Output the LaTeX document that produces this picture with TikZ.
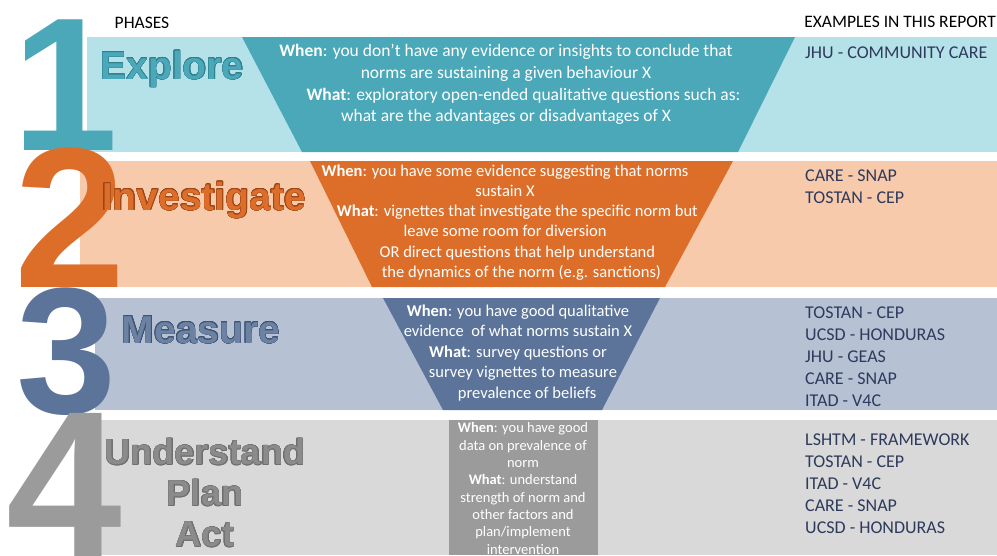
\documentclass[tikz,border=0pt]{standalone}
\usepackage{fontspec}
\setmainfont{Carlito}
\newfontfamily\headfont{Liberation Sans}
\usepackage{tikz}
\usetikzlibrary{positioning}
\usepackage{contour}
\contourlength{0.4pt}
\definecolor{exploreL}{HTML}{B5E1E8}
\definecolor{exploreD}{HTML}{4AA8B9}
\definecolor{exploreE}{HTML}{2F7F8E}
\definecolor{investL}{HTML}{F7CAAC}
\definecolor{investD}{HTML}{DC6E2A}
\definecolor{investE}{HTML}{9C4516}
\definecolor{measureL}{HTML}{B6C2D4}
\definecolor{measureD}{HTML}{5C7499}
\definecolor{measureE}{HTML}{3E5273}
\definecolor{actL}{HTML}{D9D9D9}
\definecolor{actD}{HTML}{9B9B9B}
\definecolor{actE}{HTML}{6E6E6E}
\definecolor{exampletext}{HTML}{2E3A5C}
\newcommand\phasename[3]{\contour{#2}{\textcolor{#1}{#3}}}

\begin{document}
\begin{tikzpicture}[x=1pt, y=-1pt,
  funnel/.style={text=white, align=center, inner sep=0pt, font=\fontsize{16.5}{20.2}\selectfont},
  example/.style={anchor=west, text=exampletext, align=left, inner sep=0pt, font=\fontsize{18}{22}\selectfont},
  header/.style={inner sep=0pt, font=\fontsize{17.5}{20}\selectfont},
  phase/.style={inner sep=0pt, align=center, font=\headfont\bfseries\fontsize{39}{41}\selectfont},
  bignum/.style={anchor=base, inner sep=0pt, font=\headfont\bfseries\fontsize{190}{190}\selectfont}]
\clip (0,0) rectangle (997,555);
%\draw[step=10,gray,very thin] (0,0) grid (997,555);
\fill[white] (0,0) rectangle (997,555);%%
\draw (142,23) node[header] (phases) {PHASES};%%
\draw (996,22) node[header, anchor=east] (examples) {EXAMPLES IN THIS REPORT};%%
% bands
\fill[exploreL] (87,37) rectangle (997,152);%%
\fill[investL] (80,161) rectangle (997,287);%%
\fill[measureL] (95,298) rectangle (997,410);%%
\fill[actL] (95,420) rectangle (997,555);%%
% funnels
\fill[exploreD] (242,37) -- (795,37) -- (738,152) -- (302,152) -- cycle;%%
\fill[investD] (310,161) -- (733,161) -- (665,287) -- (372,287) -- cycle;%%
\fill[measureD] (383,298) -- (660,298) -- (602,410) -- (443,410) -- cycle;%%
\fill[actD] (449,420) rectangle (598,555);%%
% big numbers
\draw (65,150) node[bignum, text=exploreD] (one) {1};%%
\draw (70,287) node[bignum, text=investD, font=\headfont\bfseries\fontsize{200}{200}\selectfont] (two) {2};%%
\draw (67,413) node[bignum, text=measureD, font=\headfont\bfseries\fontsize{180}{180}\selectfont] (three) {3};%%
\draw (64,556) node[bignum, text=actD, font=\headfont\bfseries\fontsize{208}{208}\selectfont] (four) {4};%%
% phase names
\draw (172,79) node[phase, anchor=base] (explore) {\phasename{exploreD}{exploreE}{Explore}};%%
\draw (204,210) node[phase, anchor=base] (investigate) {\phasename{investD}{investE}{Investigate}};%%
\draw (201,343) node[phase, anchor=base] (measure) {\phasename{measureD!90!white}{measureE}{Measure}};%%
\draw (205,493) node[phase, font=\headfont\bfseries\fontsize{36}{41}\selectfont] (act) {\phasename{actD!90!black}{actE}{Understand}\\ \phasename{actD!90!black}{actE}{Plan}\\ \phasename{actD!90!black}{actE}{Act}};%%
% funnel texts
\draw (506,84.5) node[funnel, font=\fontsize{17.5}{21.7}\selectfont] (when1) {\textbf{When}: you don't have any evidence or insights to conclude that\\ norms are sustaining a given behaviour X\\ \hspace{2em}\textbf{What}: exploratory open-ended qualitative questions such as:\\ what are the advantages or disadvantages of X};%%
\draw (505,222.5) node[funnel] (when2) {\textbf{When}: you have some evidence suggesting that norms\\ sustain X\\ \hspace{1.5em}\textbf{What}: vignettes that investigate the specific norm but\\ leave some room for diversion\\ \hspace{1.5em}OR direct questions that help understand\\ \hspace{2em}the dynamics of the norm (e.g. sanctions)};%%
\draw (518,353) node[funnel, font=\fontsize{16.5}{20.5}\selectfont] (when3) {\textbf{When}: you have good qualitative\\ evidence\ \ of what norms sustain X\\ \textbf{What}: survey questions or\hspace{1.7em}\\ \hspace{0.6em}survey vignettes to measure\\ \hspace{1.1em}prevalence of beliefs};%%
\draw (523,488.5) node[funnel, font=\fontsize{14.5}{17.3}\selectfont] (when4) {\textbf{When}: you have good\\ data on prevalence of\\ norm\\ \textbf{What}: understand\\ strength of norm and\\ other factors and\\ plan/implement\\ intervention};%%
% examples
\draw (805,53) node[example] (ex1) {JHU - COMMUNITY CARE};%%
\draw (805,187) node[example] (ex2) {CARE - SNAP\\ TOSTAN - CEP};%%
\draw (805,357) node[example] (ex3) {TOSTAN - CEP\\ UCSD - HONDURAS\\ JHU - GEAS\\ CARE - SNAP\\ ITAD - V4C};%%
\draw (805,484) node[example] (ex4) {LSHTM - FRAMEWORK\\ TOSTAN - CEP\\ ITAD - V4C\\ CARE - SNAP\\ UCSD - HONDURAS};%%
\end{tikzpicture}
\end{document}
